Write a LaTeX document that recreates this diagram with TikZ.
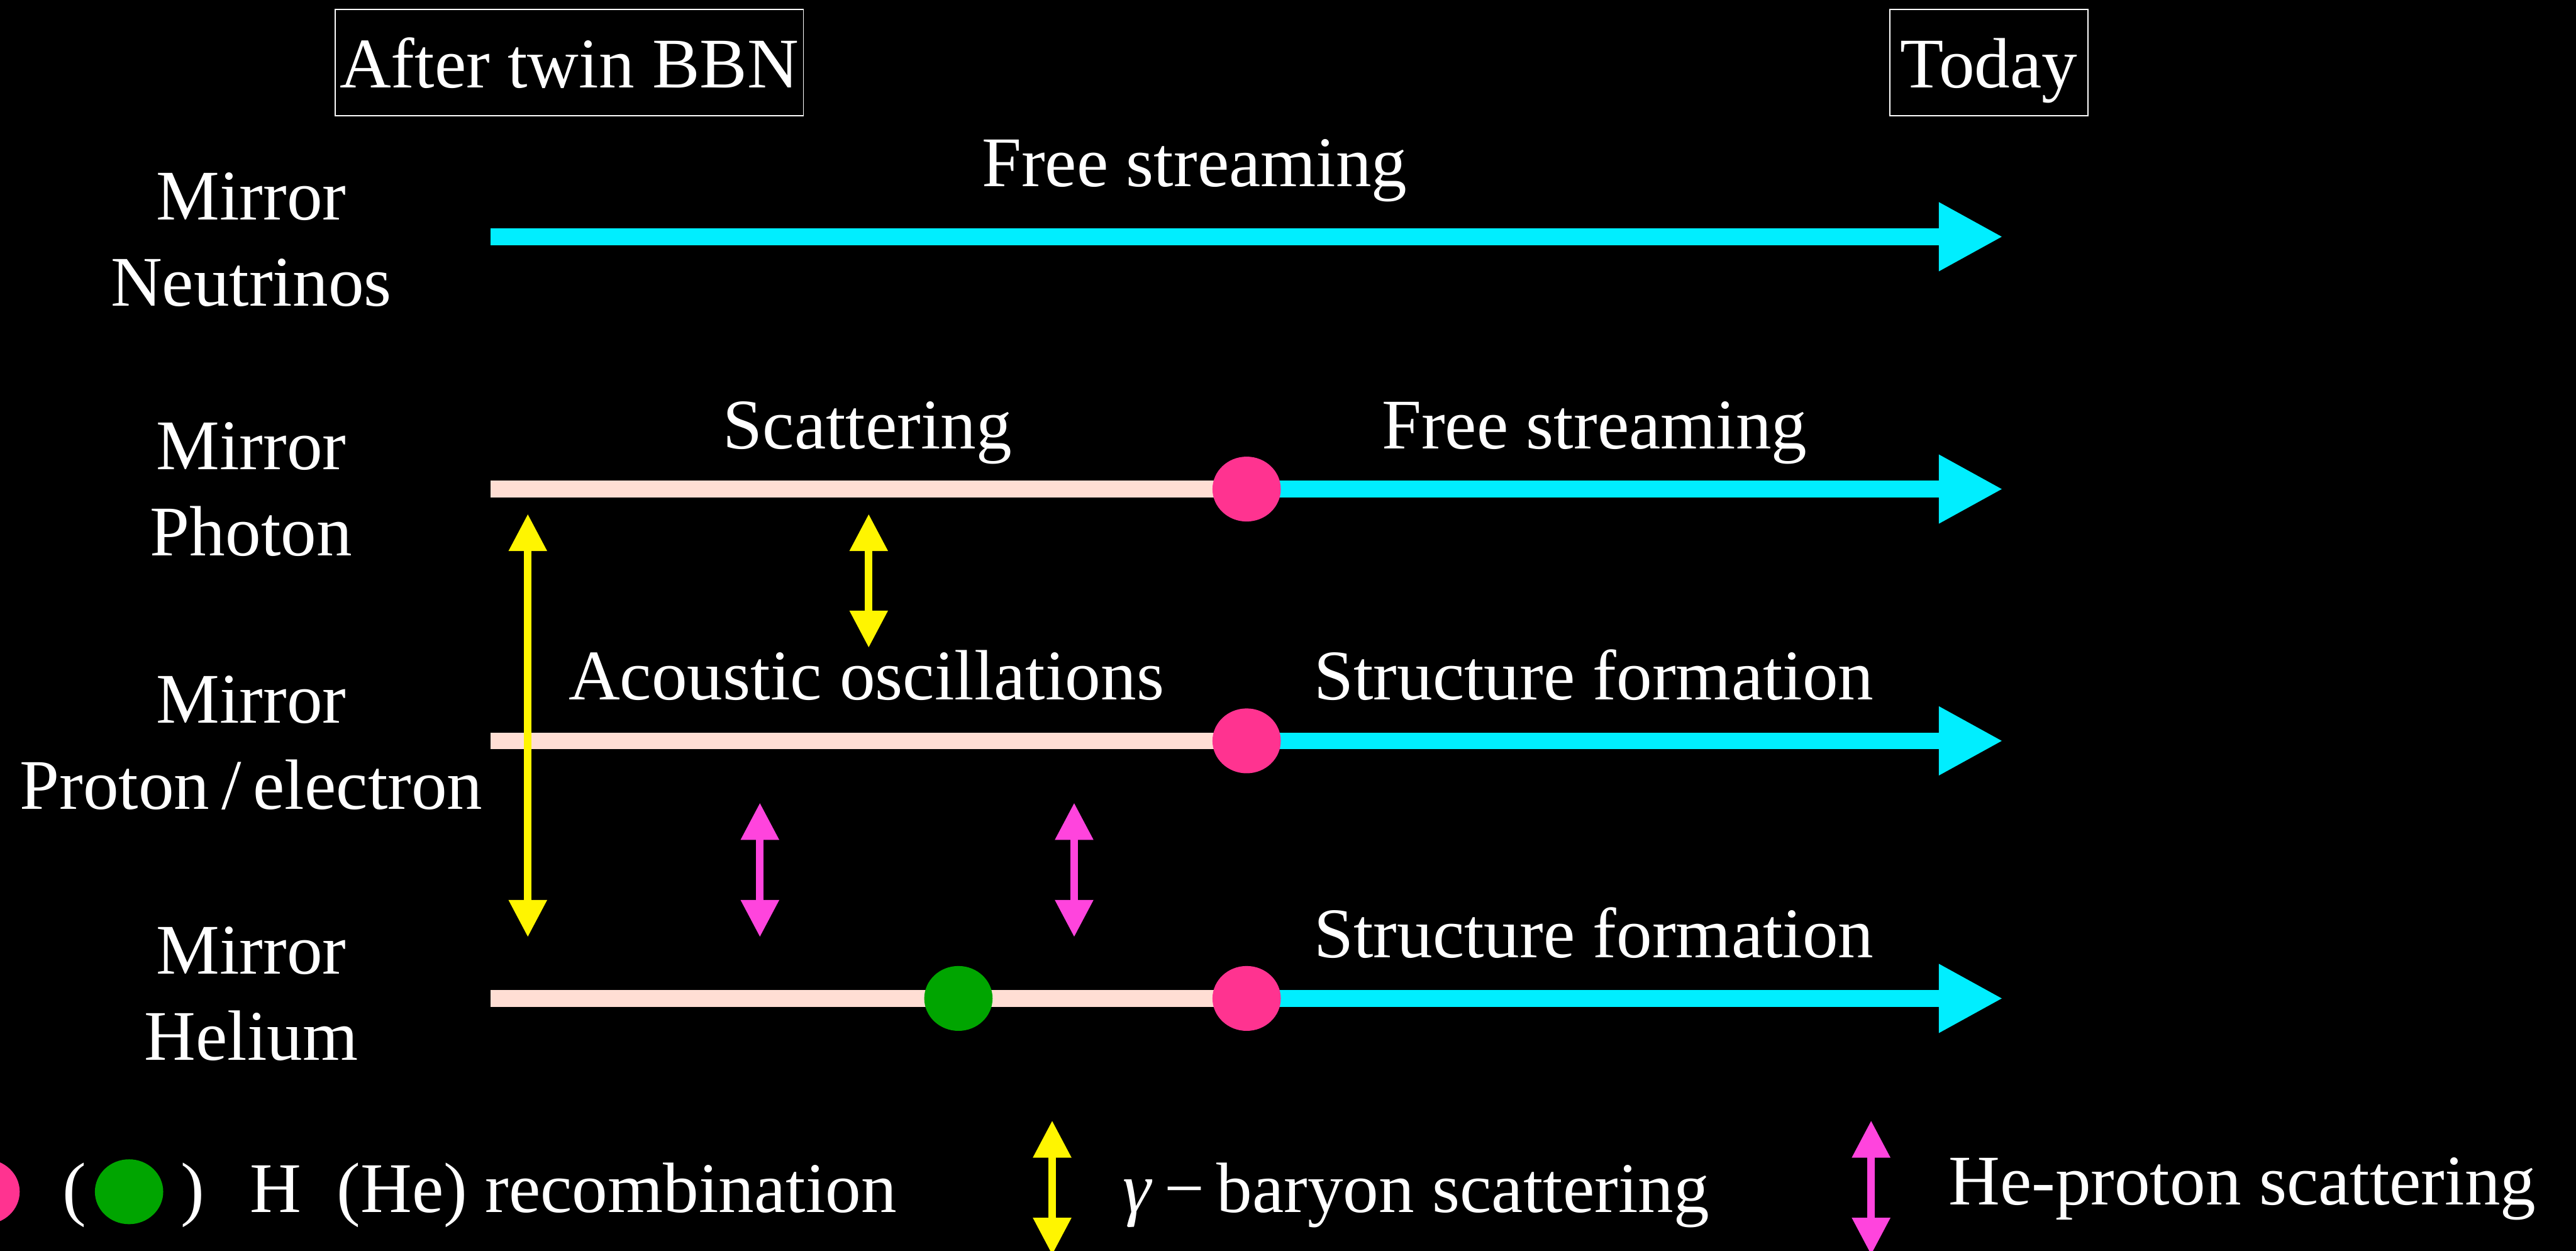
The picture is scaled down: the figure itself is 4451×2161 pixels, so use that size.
\documentclass[tikz,border=0pt]{standalone}
\usepackage{fontspec}
\setmainfont{Liberation Serif}
\usetikzlibrary{arrows.meta,shapes.geometric}
\definecolor{cyanline}{RGB}{0,238,255}
\definecolor{peach}{RGB}{255,222,212}
\definecolor{recpink}{RGB}{255,51,144}
\definecolor{recgreen}{RGB}{0,165,0}
\definecolor{ayellow}{RGB}{255,245,0}
\definecolor{amagenta}{RGB}{255,68,221}
\begin{document}
\begin{tikzpicture}[x=0.01cm,y=-0.01cm,
  txt/.style={text=white,font=\fontsize{35}{42}\selectfont,inner sep=0pt},
  lbl/.style={txt,anchor=base},
  lblw/.style={txt,anchor=base west},
  hdr/.style={txt,draw=white,line width=0.6pt,minimum height=1.83cm,text height=0.88cm,text depth=0pt},
  peachline/.style={peach,line width=0.29cm},
  cyanarrow/.style={cyanline,line width=0.29cm,-{Triangle[width=1.11cm,length=1.11cm]}},
  dotbase/.style={ellipse,minimum width=1.18cm,minimum height=1.12cm,inner sep=0pt,draw=none},
  pinkdot/.style={dotbase,fill=recpink},
  greendot/.style={dotbase,fill=recgreen},
  vboth/.style={line width=0.13cm,{Triangle[width=0.63cm,length=0.64cm]}-{Triangle[width=0.63cm,length=0.64cm]}},
  yarrow/.style={vboth,ayellow},
  marrow/.style={vboth,amagenta}
]
\fill[black] (0,0) rectangle (4451,2161);
\useasboundingbox (0,0) rectangle (4451,2161);

% header boxes
\node[hdr,minimum width=8.09cm] (bbn) at (983.5,108) {After twin BBN};
\node[hdr,minimum width=3.43cm] (today) at (3436.5,108) {Today};

% left labels
\node[lbl] (nuA) at (434,380) {Mirror};
\node[lbl] (nuB) at (434,529) {Neutrinos};
\node[lbl] (phA) at (434,811) {Mirror};
\node[lbl] (phB) at (434,960) {Photon};
\node[lbl] (prA) at (434,1249) {Mirror};
\node[lbl] (prB) at (434,1398) {Proton\,/\,electron};
\node[lbl] (heA) at (434,1683) {Mirror};
\node[lbl] (heB) at (434,1832) {Helium};

% neutrino line
\coordinate (nuS) at (848,409);
\coordinate (nuE) at (3461,409);
\draw[cyanarrow] (nuS) -- (nuE);
\node[lbl] (nuT) at (2064,322) {Free streaming};

% photon line
\coordinate (phS) at (848,845);
\coordinate (phM) at (2154,845);
\coordinate (phE) at (3461,845);
\draw[peachline] (phS) -- (phM);
\draw[cyanarrow] (phM) -- (phE);
\node[pinkdot] (phD) at (phM) {};
\node[lbl] (phT1) at (1499,775) {Scattering};
\node[lbl] (phT2) at (2755,775) {Free streaming};

% proton line
\coordinate (prS) at (848,1280);
\coordinate (prM) at (2154,1280);
\coordinate (prE) at (3461,1280);
\draw[peachline] (prS) -- (prM);
\draw[cyanarrow] (prM) -- (prE);
\node[pinkdot] (prD) at (prM) {};
\node[lbl] (prT1) at (1497,1209) {Acoustic oscillations};
\node[lbl] (prT2) at (2754,1209) {Structure formation};

% helium line
\coordinate (heS) at (848,1725);
\coordinate (heM) at (2154,1725);
\coordinate (heE) at (3461,1725);
\draw[peachline] (heS) -- (heM);
\draw[cyanarrow] (heM) -- (heE);
\node[greendot] (heG) at (1656,1725) {};
\node[pinkdot] (heD) at (heM) {};
\node[lbl] (heT) at (2754,1654) {Structure formation};

% vertical interaction arrows
\coordinate (y1a) at (912,888);
\coordinate (y1b) at (912,1619);
\draw[yarrow] (y1a) -- (y1b);
\coordinate (y2a) at (1501,888);
\coordinate (y2b) at (1501,1119);
\draw[yarrow] (y2a) -- (y2b);
\coordinate (m1a) at (1313,1387);
\coordinate (m1b) at (1313,1619);
\draw[marrow] (m1a) -- (m1b);
\coordinate (m2a) at (1856,1387);
\coordinate (m2b) at (1856,1619);
\draw[marrow] (m2a) -- (m2b);

% legend
\node[pinkdot] (lgP) at (-25,2059) {};
\node[lblw] (lgOpen) at (107,2095) {(};
\node[greendot] (lgG) at (223,2059) {};
\node[lblw] (lgClose) at (312,2095) {)};
\node[lblw] (lgRec) at (431,2095) {H\enspace(He) recombination};
\coordinate (lyA) at (1818,1936);
\coordinate (lyB) at (1818,2168);
\draw[yarrow] (lyA) -- (lyB);
\node[lblw] (lgGam) at (1940,2094) {\textit{γ}\,−\,baryon scattering};
\coordinate (lmA) at (3233,1936);
\coordinate (lmB) at (3233,2168);
\draw[marrow] (lmA) -- (lmB);
\node[lblw] (lgHe) at (3366,2082) {He-proton scattering};
\end{tikzpicture}
\end{document}
